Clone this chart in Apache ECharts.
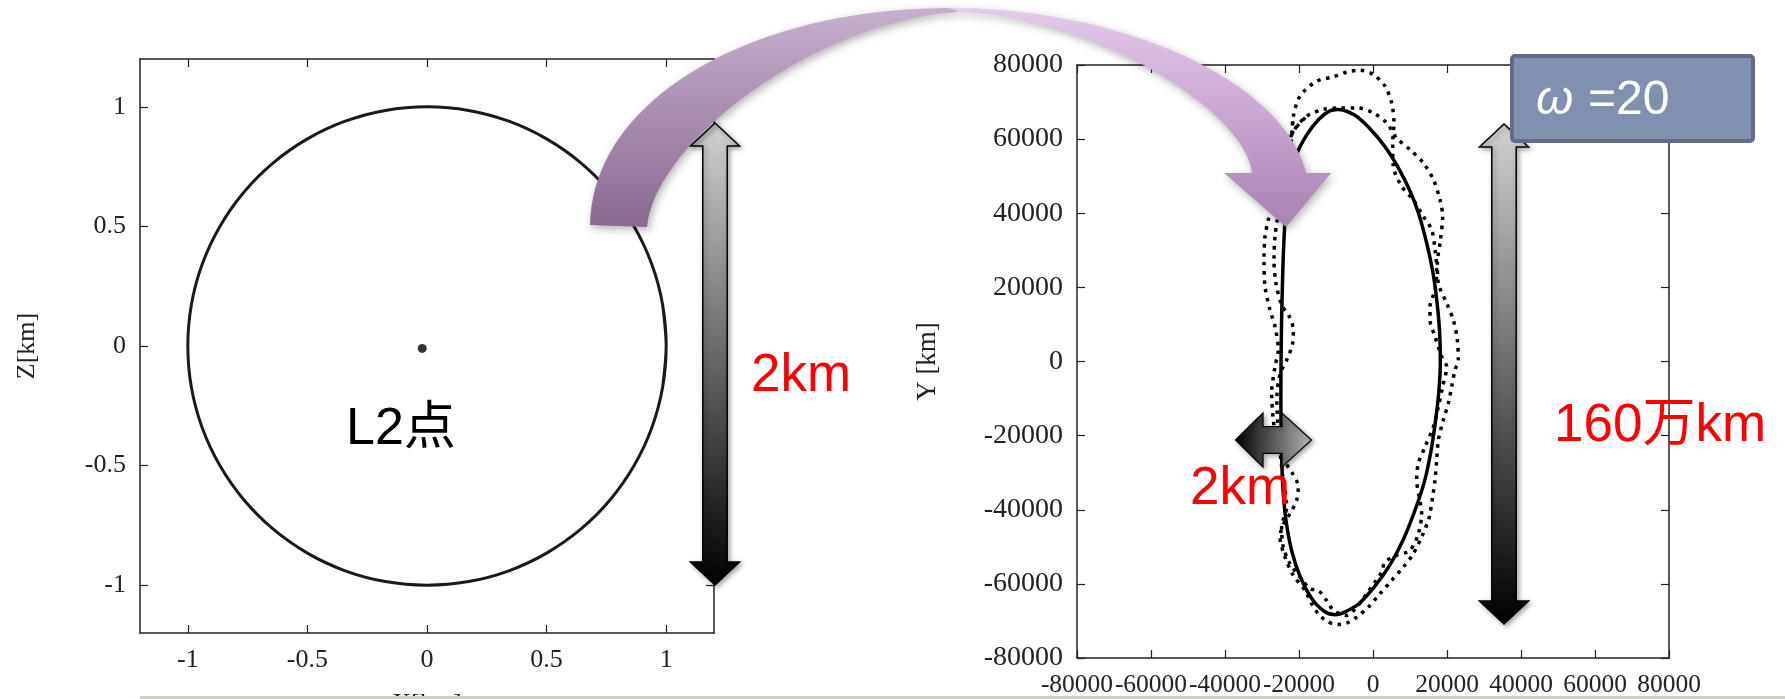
<!DOCTYPE html>
<html>
<head>
<meta charset="utf-8">
<script src="https://cdn.jsdelivr.net/npm/echarts@6/dist/echarts.min.js"></script>
<style>
html,body{margin:0;padding:0;background:#fff;}
#chart{width:1785px;height:699px;}
</style>
</head>
<body>
<div id="chart"></div>
<script>
// ---------- DATA ----------
// Left panel: tick values and the 2 km circle (X/Z, km)
const leftTicks = [-1, -0.5, 0, 0.5, 1];
const circleX = [1, 0.985, 0.94, 0.866, 0.766, 0.643, 0.5, 0.342, 0.174, 0, -0.174, -0.342, -0.5, -0.643, -0.766, -0.866, -0.94, -0.985, -1, -0.985, -0.94, -0.866, -0.766, -0.643, -0.5, -0.342, -0.174, 0, 0.174, 0.342, 0.5, 0.643, 0.766, 0.866, 0.94, 0.985, 1];
const circleZ = [0, 0.174, 0.342, 0.5, 0.643, 0.766, 0.866, 0.94, 0.985, 1, 0.985, 0.94, 0.866, 0.766, 0.643, 0.5, 0.342, 0.174, 0, -0.174, -0.342, -0.5, -0.643, -0.766, -0.866, -0.94, -0.985, -1, -0.985, -0.94, -0.866, -0.766, -0.643, -0.5, -0.342, -0.174, 0];
const l2Point = [[-0.02, -0.01]];

// Right panel: nominal halo orbit (solid) in km
const haloX = [-9400, -5000, -1000, 3200, 7000, 10000, 12300, 14500, 16200, 17300, 18000, 18200, 17800, 16900, 15700, 14000, 11400, 8200, 4500, 200, -4000, -8500, -10000, -13000, -16500, -19700, -22000, -23500, -24300, -24700, -24900, -24800, -24500, -24100, -23600, -22700, -21000, -18000, -14500, -11500, -9400];
const haloY = [68000, 66500, 63000, 58000, 52000, 46000, 40000, 32000, 24000, 16000, 8000, 0, -8000, -16000, -24000, -32000, -40000, -48000, -55000, -61000, -65500, -68000, -68300, -67500, -64000, -58000, -51000, -43000, -35000, -25000, -10000, 5000, 20000, 32000, 40000, 48000, 55000, 61000, 65500, 67700, 68000];

// Perturbed trajectory, loop 1 (dotted)
const pert1X = [-21980, -21530, -19730, -15230, -10730, -7120, -3520, 80, 3240, 5040, 5670, 5310, 5490, 7740, 10900, 13600, 15860, 16760, 17210, 16760, 15410, 15410, 16760, 18570, 19910, 18830, 17660, 16310, 14060, 12250, 11800, 12520, 13150, 12250, 10000, 6400, 3240, 2340, 540, -1710, -4410, -7120, -10630, -12520, -14780, -17030, -19730, -22430, -24240, -24690, -23330, -24500, -25500, -26000, -25000, -23330, -21710, -21530, -22610, -24690, -26220, -26760, -26490, -25860, -24500, -23000, -21980];
const pert1Y = [60770, 66170, 71580, 75630, 76810, 78070, 78610, 77440, 74290, 69780, 64380, 58970, 52660, 47260, 43650, 39150, 35540, 30140, 24730, 19330, 14820, 11220, 6710, 1300, -1400, -6800, -12210, -17620, -23020, -27530, -32030, -36540, -41040, -46440, -50950, -52300, -54110, -56810, -59510, -62660, -66270, -68520, -67170, -64470, -61760, -61310, -58160, -54560, -50050, -44650, -39240, -30000, -20000, -10000, -3000, 400, 4910, 8510, 12120, 15270, 21130, 27440, 33740, 38250, 47000, 54000, 60770];

// Perturbed trajectory, loop 2 (dotted)
const pert2X = [-21530, -17930, -13420, -8920, -4410, 90, 3690, 6400, 10000, 13610, 16310, 18110, 18830, 18110, 17390, 17660, 19910, 21710, 22790, 23060, 22160, 21260, 20360, 19010, 17660, 17210, 16760, 16130, 15410, 14960, 13150, 10900, 8200, 5040, 1890, -1260, -4410, -7120, -9820, -12520, -14780, -16580, -18380, -21530, -23790, -25140, -24000, -22430, -20630, -20180, -21980, -23790, -26000, -26940, -27390, -26490, -25590, -26490, -27840, -29190, -29460, -29190, -28290, -26000, -24000, -21530];
const pert2Y = [62120, 66170, 67980, 68430, 68430, 67080, 64380, 60320, 57170, 53560, 49060, 43650, 39150, 31940, 26540, 21130, 15720, 11220, 5810, 410, -2300, -6800, -11310, -15810, -21220, -26620, -32030, -36540, -41040, -42840, -47350, -51850, -55460, -59060, -62660, -66270, -68970, -70590, -70950, -70050, -68070, -65370, -61760, -57710, -52750, -47350, -43500, -41040, -37440, -33830, -29780, -27080, -21000, -15810, -8600, -1400, 3110, 9410, 13920, 20230, 27440, 33740, 38250, 48000, 56000, 62120];

const rightMin = -80000, rightMax = 80000, rightInterval = 20000;

// ---------- BUILD ----------
const zip = (a, b) => a.map((v, i) => [v, b[i]]);
// closed loops: repeat neighbours past the seam so smoothing has no kink there
const loop = (a, b) => { const p = zip(a, b); return [p[p.length - 2]].concat(p, [p[1]]); };
const serif = '"Liberation Serif", "DejaVu Serif", serif';
const sans = '"Liberation Sans", "Noto Sans CJK JP", sans-serif';
const frame = { show: true, onZero: false, lineStyle: { color: '#222', width: 1.5 } };

function leftAxis(pos, labels, extra) {
  return Object.assign({
    gridIndex: 0, type: 'value', min: -1.2, max: 1.2, position: pos,
    axisLine: frame,
    axisTick: { show: true, inside: true, length: 8, customValues: leftTicks, lineStyle: { color: '#222', width: 1.2 } },
    axisLabel: labels ? { show: true, customValues: leftTicks, fontFamily: serif, fontSize: 26, color: '#222', margin: 14 } : { show: false },
    splitLine: { show: false }
  }, extra || {});
}
function rightAxis(pos, labels, size, extra) {
  return Object.assign({
    gridIndex: 1, type: 'value', min: rightMin, max: rightMax, interval: rightInterval, position: pos,
    axisLine: frame,
    axisTick: { show: true, inside: true, length: 8, lineStyle: { color: '#222', width: 1.2 } },
    axisLabel: labels ? { show: true, fontFamily: serif, fontSize: size, color: '#222', margin: 14, hideOverlap: false,
      showMinLabel: true, showMaxLabel: true, formatter: v => String(v) } : { show: false },
    splitLine: { show: false }
  }, extra || {});
}

// decoration geometry helpers (annotation shapes, pixel space)
const arrowV = (cx, top, bottom) => {
  const hw = 24.5, sw = 12.2, hh = 23;
  return [[cx, top], [cx + hw, top + hh], [cx + sw, top + hh], [cx + sw, bottom - hh], [cx + hw, bottom - hh], [cx, bottom], [cx - hw, bottom - hh], [cx - sw, bottom - hh], [cx - sw, top + hh], [cx - hw, top + hh]];
};
function bez(p0, c1, c2, p3, n) {
  const pts = [];
  for (let i = 0; i <= n; i++) {
    const t = i / n, u = 1 - t;
    pts.push([
      u * u * u * p0[0] + 3 * u * u * t * c1[0] + 3 * u * t * t * c2[0] + t * t * t * p3[0],
      u * u * u * p0[1] + 3 * u * u * t * c1[1] + 3 * u * t * t * c2[1] + t * t * t * p3[1]
    ]);
  }
  return pts;
}
const purpleLeft = [].concat(
  bez([590, 225], [592, 100], [750, 8], [950, 8], 40),
  bez([958, 12], [820, 20], [655, 140], [647, 227], 40)
);
const purpleRight = [].concat(
  bez([948, 8], [1130, 8], [1285, 85], [1306, 173], 40),
  [[1331, 173], [1286, 227], [1224, 173]],
  bez([1252, 173], [1245, 110], [1090, 14], [958, 12], 40)
);

const option = {
  backgroundColor: '#fff',
  animation: false,
  grid: [
    { left: 140, top: 59, width: 574, height: 574, outerBoundsMode: 'none', containLabel: false },
    { left: 1077, top: 65, width: 592, height: 593, outerBoundsMode: 'none', containLabel: false }
  ],
  xAxis: [
    leftAxis('bottom', true, { name: 'X[km]', nameLocation: 'middle', nameGap: 58, nameTextStyle: { fontFamily: serif, fontSize: 26, color: '#222' } }),
    leftAxis('top', false),
    rightAxis('bottom', true, 25.5),
    rightAxis('top', false, 25.5)
  ],
  yAxis: [
    leftAxis('left', true, { name: 'Z[km]', nameLocation: 'middle', nameGap: 100, nameTextStyle: { fontFamily: serif, fontSize: 26, color: '#222' } }),
    leftAxis('right', false),
    rightAxis('left', true, 28, { name: 'Y [km]', nameLocation: 'middle', nameGap: 136, nameTextStyle: { fontFamily: serif, fontSize: 27, color: '#222' } }),
    rightAxis('right', false, 28)
  ],
  series: [
    { type: 'line', xAxisIndex: 0, yAxisIndex: 0, data: loop(circleX, circleZ), smooth: 0.3, showSymbol: false, lineStyle: { color: '#1a1a1a', width: 3 }, z: 3 },
    { type: 'scatter', xAxisIndex: 0, yAxisIndex: 0, data: l2Point, symbolSize: 9, itemStyle: { color: '#000' }, z: 4 },
    { type: 'line', xAxisIndex: 2, yAxisIndex: 2, data: loop(pert1X, pert1Y), smooth: 0.3, showSymbol: false, lineStyle: { color: '#000', width: 3.5, type: [3.5, 5.5], cap: 'butt' }, z: 2 },
    { type: 'line', xAxisIndex: 2, yAxisIndex: 2, data: loop(pert2X, pert2Y), smooth: 0.3, showSymbol: false, lineStyle: { color: '#000', width: 3.5, type: [3.5, 5.5], cap: 'butt' }, z: 2 },
    { type: 'line', xAxisIndex: 2, yAxisIndex: 2, data: loop(haloX, haloY), smooth: 0.35, showSymbol: false, lineStyle: { color: '#000', width: 3.5 }, z: 3 }
  ],
  graphic: [
    { type: 'line', z: 50, shape: { x1: 140, y1: 697.5, x2: 1785, y2: 697.5 }, style: { stroke: '#cdd2c6', lineWidth: 3 } },
    { type: 'polygon', z: 60, shape: { points: arrowV(715, 123, 585) },
      style: { fill: { type: 'linear', x: 0, y: 0, x2: 0, y2: 1, colorStops: [{ offset: 0, color: '#d2d2d2' }, { offset: 1, color: '#000' }] },
        stroke: '#000', lineWidth: 1.5, shadowBlur: 5, shadowOffsetX: 2, shadowOffsetY: 2, shadowColor: 'rgba(0,0,0,0.35)' } },
    { type: 'polygon', z: 60, shape: { points: arrowV(1504, 124, 624) },
      style: { fill: { type: 'linear', x: 0, y: 0, x2: 0, y2: 1, colorStops: [{ offset: 0, color: '#d2d2d2' }, { offset: 1, color: '#000' }] },
        stroke: '#000', lineWidth: 1.5, shadowBlur: 5, shadowOffsetX: 2, shadowOffsetY: 2, shadowColor: 'rgba(0,0,0,0.35)' } },
    { type: 'polygon', z: 60, shape: { points: [[1235.5, 440], [1263, 413], [1263, 426.7], [1282, 426.7], [1282, 413], [1311.5, 440], [1282, 467], [1282, 453.3], [1263, 453.3], [1263, 467]] },
      style: { fill: { type: 'linear', x: 0, y: 0, x2: 1, y2: 0, colorStops: [{ offset: 0, color: '#000' }, { offset: 1, color: '#b5b5b5' }] },
        stroke: '#000', lineWidth: 1.2, shadowBlur: 5, shadowOffsetX: 2, shadowOffsetY: 2, shadowColor: 'rgba(0,0,0,0.35)' } },
    { type: 'polygon', z: 70, shape: { points: purpleLeft },
      style: { fill: { type: 'linear', x: 0, y: 0, x2: 0, y2: 1, colorStops: [{ offset: 0, color: '#c6b0cc' }, { offset: 1, color: '#8a6a90' }] },
        shadowBlur: 8, shadowOffsetX: 2, shadowOffsetY: 3, shadowColor: 'rgba(0,0,0,0.3)' } },
    { type: 'polygon', z: 71, shape: { points: purpleRight },
      style: { fill: { type: 'linear', x: 0, y: 0, x2: 0, y2: 1, colorStops: [{ offset: 0, color: '#e3cbe9' }, { offset: 0.5, color: '#c8a5cf' }, { offset: 1, color: '#a784b0' }] },
        shadowBlur: 8, shadowOffsetX: 2, shadowOffsetY: 3, shadowColor: 'rgba(0,0,0,0.3)' } },
    { type: 'rect', z: 80, shape: { x: 1512, y: 56, width: 241, height: 85, r: 3 },
      style: { fill: '#8290b0', stroke: '#626b8b', lineWidth: 4 } },
    { type: 'text', z: 81, style: { text: 'ω', x: 1536, y: 101, font: 'italic 48px ' + sans, fill: '#fff', verticalAlign: 'middle', textVerticalAlign: 'middle' } },
    { type: 'text', z: 81, style: { text: '=20', x: 1588, y: 101, font: '48px ' + sans, fill: '#fff', verticalAlign: 'middle', textVerticalAlign: 'middle' } },
    { type: 'text', z: 85, style: { text: '2km', x: 751, y: 376, font: '53px ' + sans, fill: '#ff0000', verticalAlign: 'middle', textVerticalAlign: 'middle' } },
    { type: 'text', z: 85, style: { text: '160万km', x: 1554, y: 426, font: '53px ' + sans, fill: '#ff0000', verticalAlign: 'middle', textVerticalAlign: 'middle' } },
    { type: 'text', z: 85, style: { text: '2km', x: 1190, y: 489, font: '53px ' + sans, fill: '#ff0000', verticalAlign: 'middle', textVerticalAlign: 'middle' } },
    { type: 'text', z: 85, style: { text: 'L2点', x: 346, y: 430, font: '52px ' + sans, fill: '#000', verticalAlign: 'middle', textVerticalAlign: 'middle' } }
  ]
};

const chart = echarts.init(document.getElementById('chart'), null, { renderer: 'canvas' });
chart.setOption(option);
</script>
</body>
</html>
